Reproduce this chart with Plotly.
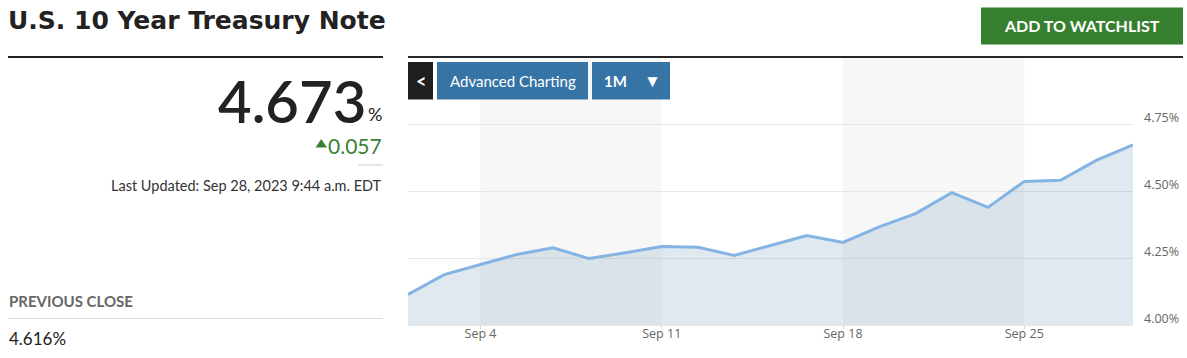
import plotly.graph_objects as go

# ---------------- data ----------------
dates = ["2023-08-31", "2023-09-01", "2023-09-04", "2023-09-05", "2023-09-06",
         "2023-09-07", "2023-09-08", "2023-09-11", "2023-09-12", "2023-09-13",
         "2023-09-14", "2023-09-15", "2023-09-18", "2023-09-19", "2023-09-20",
         "2023-09-21", "2023-09-22", "2023-09-25", "2023-09-26", "2023-09-27",
         "2023-09-28"]
yields = [4.115, 4.189, 4.227, 4.264, 4.289, 4.249, 4.271, 4.294, 4.291, 4.261,
          4.298, 4.335, 4.309, 4.367, 4.417, 4.495, 4.440, 4.537, 4.541, 4.616,
          4.673]
tick_dates = ["2023-09-04", "2023-09-11", "2023-09-18", "2023-09-25"]
tick_labels = ["Sep 4", "Sep 11", "Sep 18", "Sep 25"]
y_ticks = [4.00, 4.25, 4.50, 4.75]
y_tick_labels = ["4.00%", "4.25%", "4.50%", "4.75%"]
week_bands = [("2023-09-04", "2023-09-11"), ("2023-09-18", "2023-09-25")]

title_text = "U.S. 10 Year Treasury Note"
last_value = "4.673"
change_value = "0.057"
updated_text = "Last Updated: Sep 28, 2023 9:44 a.m. EDT"
prev_close_label = "PREVIOUS CLOSE"
prev_close_value = "4.616%"

# ---------------- layout helpers ----------------
W, H = 1187, 358
def px(x):
    return x / W
def py(y):
    return 1 - y / H

FONT = "Lato"

fig = go.Figure()

fig.add_trace(go.Scatter(
    x=dates, y=yields, mode="lines", fill="tozeroy",
    line=dict(color="#84b4e3", width=3),
    fillcolor="rgba(124,160,190,0.23)",
    hoverinfo="skip", showlegend=False,
))

shapes = []
# alternating week bands
for a, b in week_bands:
    shapes.append(dict(type="rect", xref="x", yref="paper",
                       x0=dates.index(a), x1=dates.index(b), y0=py(325.3), y1=py(57.5),
                       fillcolor="#f7f7f7", line=dict(width=0), layer="below"))
# header lines
shapes.append(dict(type="line", xref="paper", yref="paper", x0=px(8), x1=px(383),
                   y0=py(57), y1=py(57), line=dict(color="#222222", width=2)))
shapes.append(dict(type="line", xref="paper", yref="paper", x0=px(408), x1=px(1183),
                   y0=py(57), y1=py(57), line=dict(color="#26282b", width=2)))
# small gray divider
shapes.append(dict(type="line", xref="paper", yref="paper", x0=px(358), x1=px(383),
                   y0=py(165), y1=py(165), line=dict(color="#cccccc", width=1)))
# previous close divider
shapes.append(dict(type="line", xref="paper", yref="paper", x0=px(8), x1=px(383),
                   y0=py(318.5), y1=py(318.5), line=dict(color="#dddddd", width=1)))
# green up-triangle marker next to the change value
shapes.append(dict(type="path", xref="paper", yref="paper",
                   path=f"M {px(315.5)} {py(147.5)} L {px(327)} {py(147.5)} L {px(321.25)} {py(139)} Z",
                   fillcolor="#3a8232", line=dict(width=0)))
# buttons
def rect(x0, y0, x1, y1, color):
    shapes.append(dict(type="rect", xref="paper", yref="paper",
                       x0=px(x0), x1=px(x1), y0=py(y1), y1=py(y0),
                       fillcolor=color, line=dict(width=0), layer="above"))
rect(408, 62, 433, 99.5, "#1f1f1f")
rect(437, 62, 588, 99.5, "#3674a6")
rect(592, 62, 670, 99.5, "#3674a6")
rect(981, 7.5, 1183, 44.5, "#367f2f")

annotations = []
def txt(x, y, text, size, color, xanchor="left", weight=400, family=FONT):
    annotations.append(dict(xref="paper", yref="paper", x=px(x), y=py(y), text=text,
                            showarrow=False, xanchor=xanchor, yanchor="middle",
                            font=dict(family=family, size=size, color=color, weight=weight)))

txt(6, 20, title_text, 25, "#222222", weight=700, family="DejaVu Sans")
txt(368, 100, last_value, 58, "#222222", xanchor="right", weight=600)
txt(366, 114, "%", 18, "#222222")
txt(384, 145, change_value, 21, "#3a8232", xanchor="right")
txt(384, 186, updated_text, 14.5, "#333333", xanchor="right")
txt(7, 300.5, prev_close_label, 15, "#666666", weight=700)
txt(7, 338, prev_close_value, 17, "#222222")
txt(420.5, 80.5, "<", 18, "#ffffff", xanchor="center", weight=700)
txt(512.5, 80.5, "Advanced Charting", 15, "#ffffff", xanchor="center")
txt(602, 80.5, "1M", 15, "#ffffff", weight=700)
txt(652, 80.5, "▼", 17, "#ffffff", xanchor="center")
txt(1082, 26, "ADD TO WATCHLIST", 16, "#ffffff", xanchor="center", weight=700)

fig.update_layout(
    width=W, height=H, autosize=False,
    margin=dict(l=0, r=0, t=0, b=0),
    paper_bgcolor="#ffffff", plot_bgcolor="rgba(0,0,0,0)",
    shapes=shapes, annotations=annotations,
    xaxis=dict(
        type="category", domain=[px(408), px(1133)], range=[0, len(dates) - 1],
        tickvals=tick_dates, ticktext=tick_labels,
        showgrid=False, zeroline=False,
        showline=True, linecolor="#e6e6e6", linewidth=1,
        ticks="outside", ticklen=3, tickcolor="#ccd6eb",
        ticklabelstandoff=-6,
        tickfont=dict(family="Open Sans", size=12.5, color="#666666"),
    ),
    yaxis=dict(
        domain=[py(325.3), py(57.3)], range=[4.0, 5.0], side="right",
        tickvals=y_ticks, ticktext=y_tick_labels,
        showgrid=True, gridcolor="#e6e6e6", gridwidth=1, zeroline=False,
        showline=False, ticks="",
        ticklabelstandoff=10, ticklabelshift=-7,
        tickfont=dict(family="Open Sans", size=12.5, color="#666666"),
    ),
)

fig.write_html(
    "out.html",
    config={"displayModeBar": False},
    post_script="document.body.style.margin='0';document.body.style.overflow='hidden';",
)
